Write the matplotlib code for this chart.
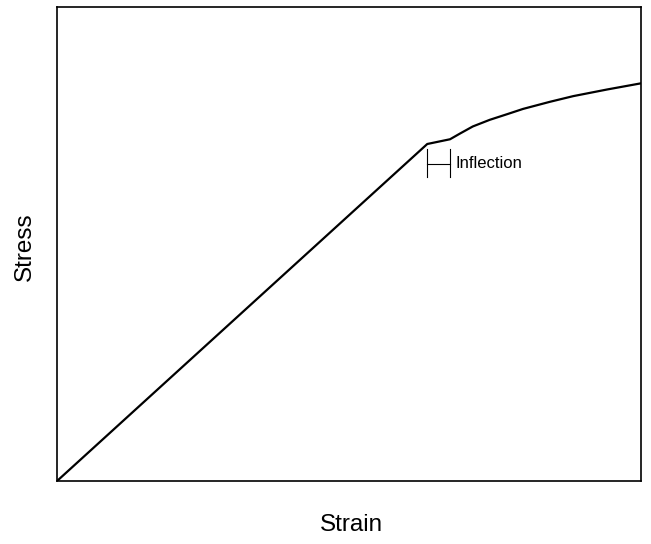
import matplotlib
matplotlib.use("Agg")
import matplotlib.pyplot as plt

plt.rcParams['font.family'] = ['Liberation Sans', 'DejaVu Sans']

# Stress-strain curve (arbitrary units, 0..100)
strain = [0, 63.4, 67.3, 69.0, 71.2, 74.1, 77.1, 79.8, 84.4, 88.4, 94.2, 100]
stress = [0, 71.1, 72.1, 73.3, 74.8, 76.2, 77.4, 78.5, 80.0, 81.2, 82.6, 83.9]

# inflection bracket
infl_x = [63.4, 67.3]
infl_y = [64.1, 70.0]
infl_mid = 66.9

fig = plt.figure(figsize=(6.51, 5.44), dpi=100)
ax = fig.add_axes([0.0876, 0.1158, 0.897, 0.8713])

ax.plot(strain, stress, color="black", linewidth=1.6, solid_joinstyle="round")

# draw bracket
for xv in infl_x:
    ax.plot([xv, xv], infl_y, color="black", linewidth=0.8)
ax.plot(infl_x, [infl_mid, infl_mid], color="black", linewidth=0.8)
ax.text(infl_x[1] + 0.9, infl_mid, "Inflection", fontsize=12, va="center", ha="left")

ax.set_xlim(0, 100)
ax.set_ylim(0, 100)
ax.set_xticks([])
ax.set_yticks([])
for s in ax.spines.values():
    s.set_linewidth(1.2)

fig.text(25 / 651, 1 - 247 / 544, "Stress", rotation=90, fontsize=17.5, va="center", ha="center")
fig.text(351 / 651, 1 - 525 / 544, "Strain", fontsize=17.5, va="center", ha="center")

fig.savefig("out.png", dpi=100)
